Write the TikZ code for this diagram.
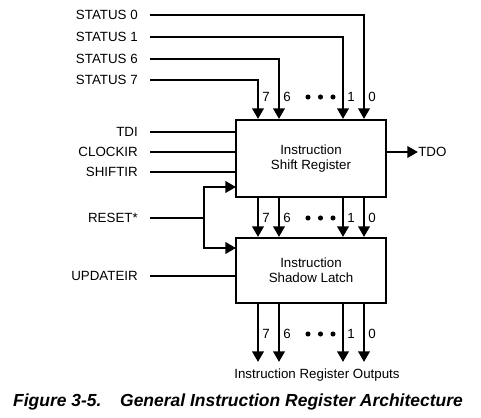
\documentclass[tikz,border=0pt]{standalone}
\usepackage{fontspec}
\setmainfont{Liberation Sans}
\usetikzlibrary{arrows.meta}
\begin{document}
\begin{tikzpicture}[x=0.75pt,y=-0.75pt,
	font=\fontsize{10}{11.5}\selectfont,
	sig/.style={line width=2.2pt},
	arr/.style={sig,-{Triangle[width=8.5pt,length=8pt]}},
	block/.style={draw,line width=1.5pt,minimum width=112.5pt,align=center,inner sep=0pt},
	lbl/.style={anchor=east,inner xsep=9pt,inner ysep=0pt},
	bit/.style={anchor=west,inner sep=0pt}]
	\useasboundingbox (0,0) rectangle (481,417);
	% blocks
	\node[block,minimum height=57.75pt] (ir) at (311,158.5) {Instruction\\Shift Register};
	\node[block,minimum height=48.75pt] (sl) at (311,270.5) {Instruction\\Shadow Latch};
	% bit columns
	\coordinate (c7) at (258,0);
	\coordinate (c6) at (279,0);
	\coordinate (c1) at (343,0);
	\coordinate (c0) at (364,0);
	% status inputs
	\node[lbl] (s0) at (150,15) {STATUS 0};
	\node[lbl] (s1) at (150,37) {STATUS 1};
	\node[lbl] (s6) at (150,59) {STATUS 6};
	\node[lbl] (s7) at (150,80) {STATUS 7};
	\draw[arr] (s0.east) -| (c0 |- ir.north);
	\draw[arr] (s1.east) -| (c1 |- ir.north);
	\draw[arr] (s6.east) -| (c6 |- ir.north);
	\draw[arr] (s7.east) -| (c7 |- ir.north);
	% control inputs
	\node[lbl] (tdi) at (150,132) {TDI};
	\node[lbl] (clk) at (150,152) {CLOCKIR};
	\node[lbl] (sft) at (150,172) {SHIFTIR};
	\node[lbl] (rst) at (150,218) {RESET*};
	\node[lbl] (upd) at (150,276) {UPDATEIR};
	\draw[sig] (tdi.east) -- (tdi.east -| ir.west);
	\draw[sig] (clk.east) -- (clk.east -| ir.west);
	\draw[sig] (sft.east) -- (sft.east -| ir.west);
	\draw[sig] (upd.east) -- (upd.east -| sl.west);
	\coordinate (rj) at (204,218);
	\coordinate (rup) at (236,187);
	\coordinate (rlo) at (236,248);
	\draw[sig] (rst.east) -- (rj);
	\draw[arr] (rj) |- (rup);
	\draw[arr] (rj) |- (rlo);
	% output
	\node[anchor=west,inner sep=0pt] (tdo) at (418,152) {TDO};
	\draw[arr] (ir.east |- tdo) -- (tdo.west);
	% between blocks and outputs
	\node[inner sep=0pt] (outs) at (317,375) {Instruction Register Outputs};
	\coordinate (oy) at (0,362);
	\foreach \b in {7,6,1,0} {
		\draw[arr] (c\b |- ir.south) -- (c\b |- sl.north);
		\draw[arr] (c\b |- sl.south) -- (c\b |- oy);
	}
	% bit labels and dots
	\foreach \y in {97,218,334} {
		\foreach \b in {7,6,1,0}
			\node[bit] at ([xshift=3pt]c\b |- 0,\y) {\b};
		\foreach \x in {308,320.5,333}
			\fill (\x,\y) circle[radius=1.9pt];
	}
	% caption
	\node[font=\fontsize{13.1}{15}\selectfont\bfseries\itshape] (cap) at (238,402)
		{Figure 3-5.\hspace{14pt}General Instruction Register Architecture};
\end{tikzpicture}
\end{document}
